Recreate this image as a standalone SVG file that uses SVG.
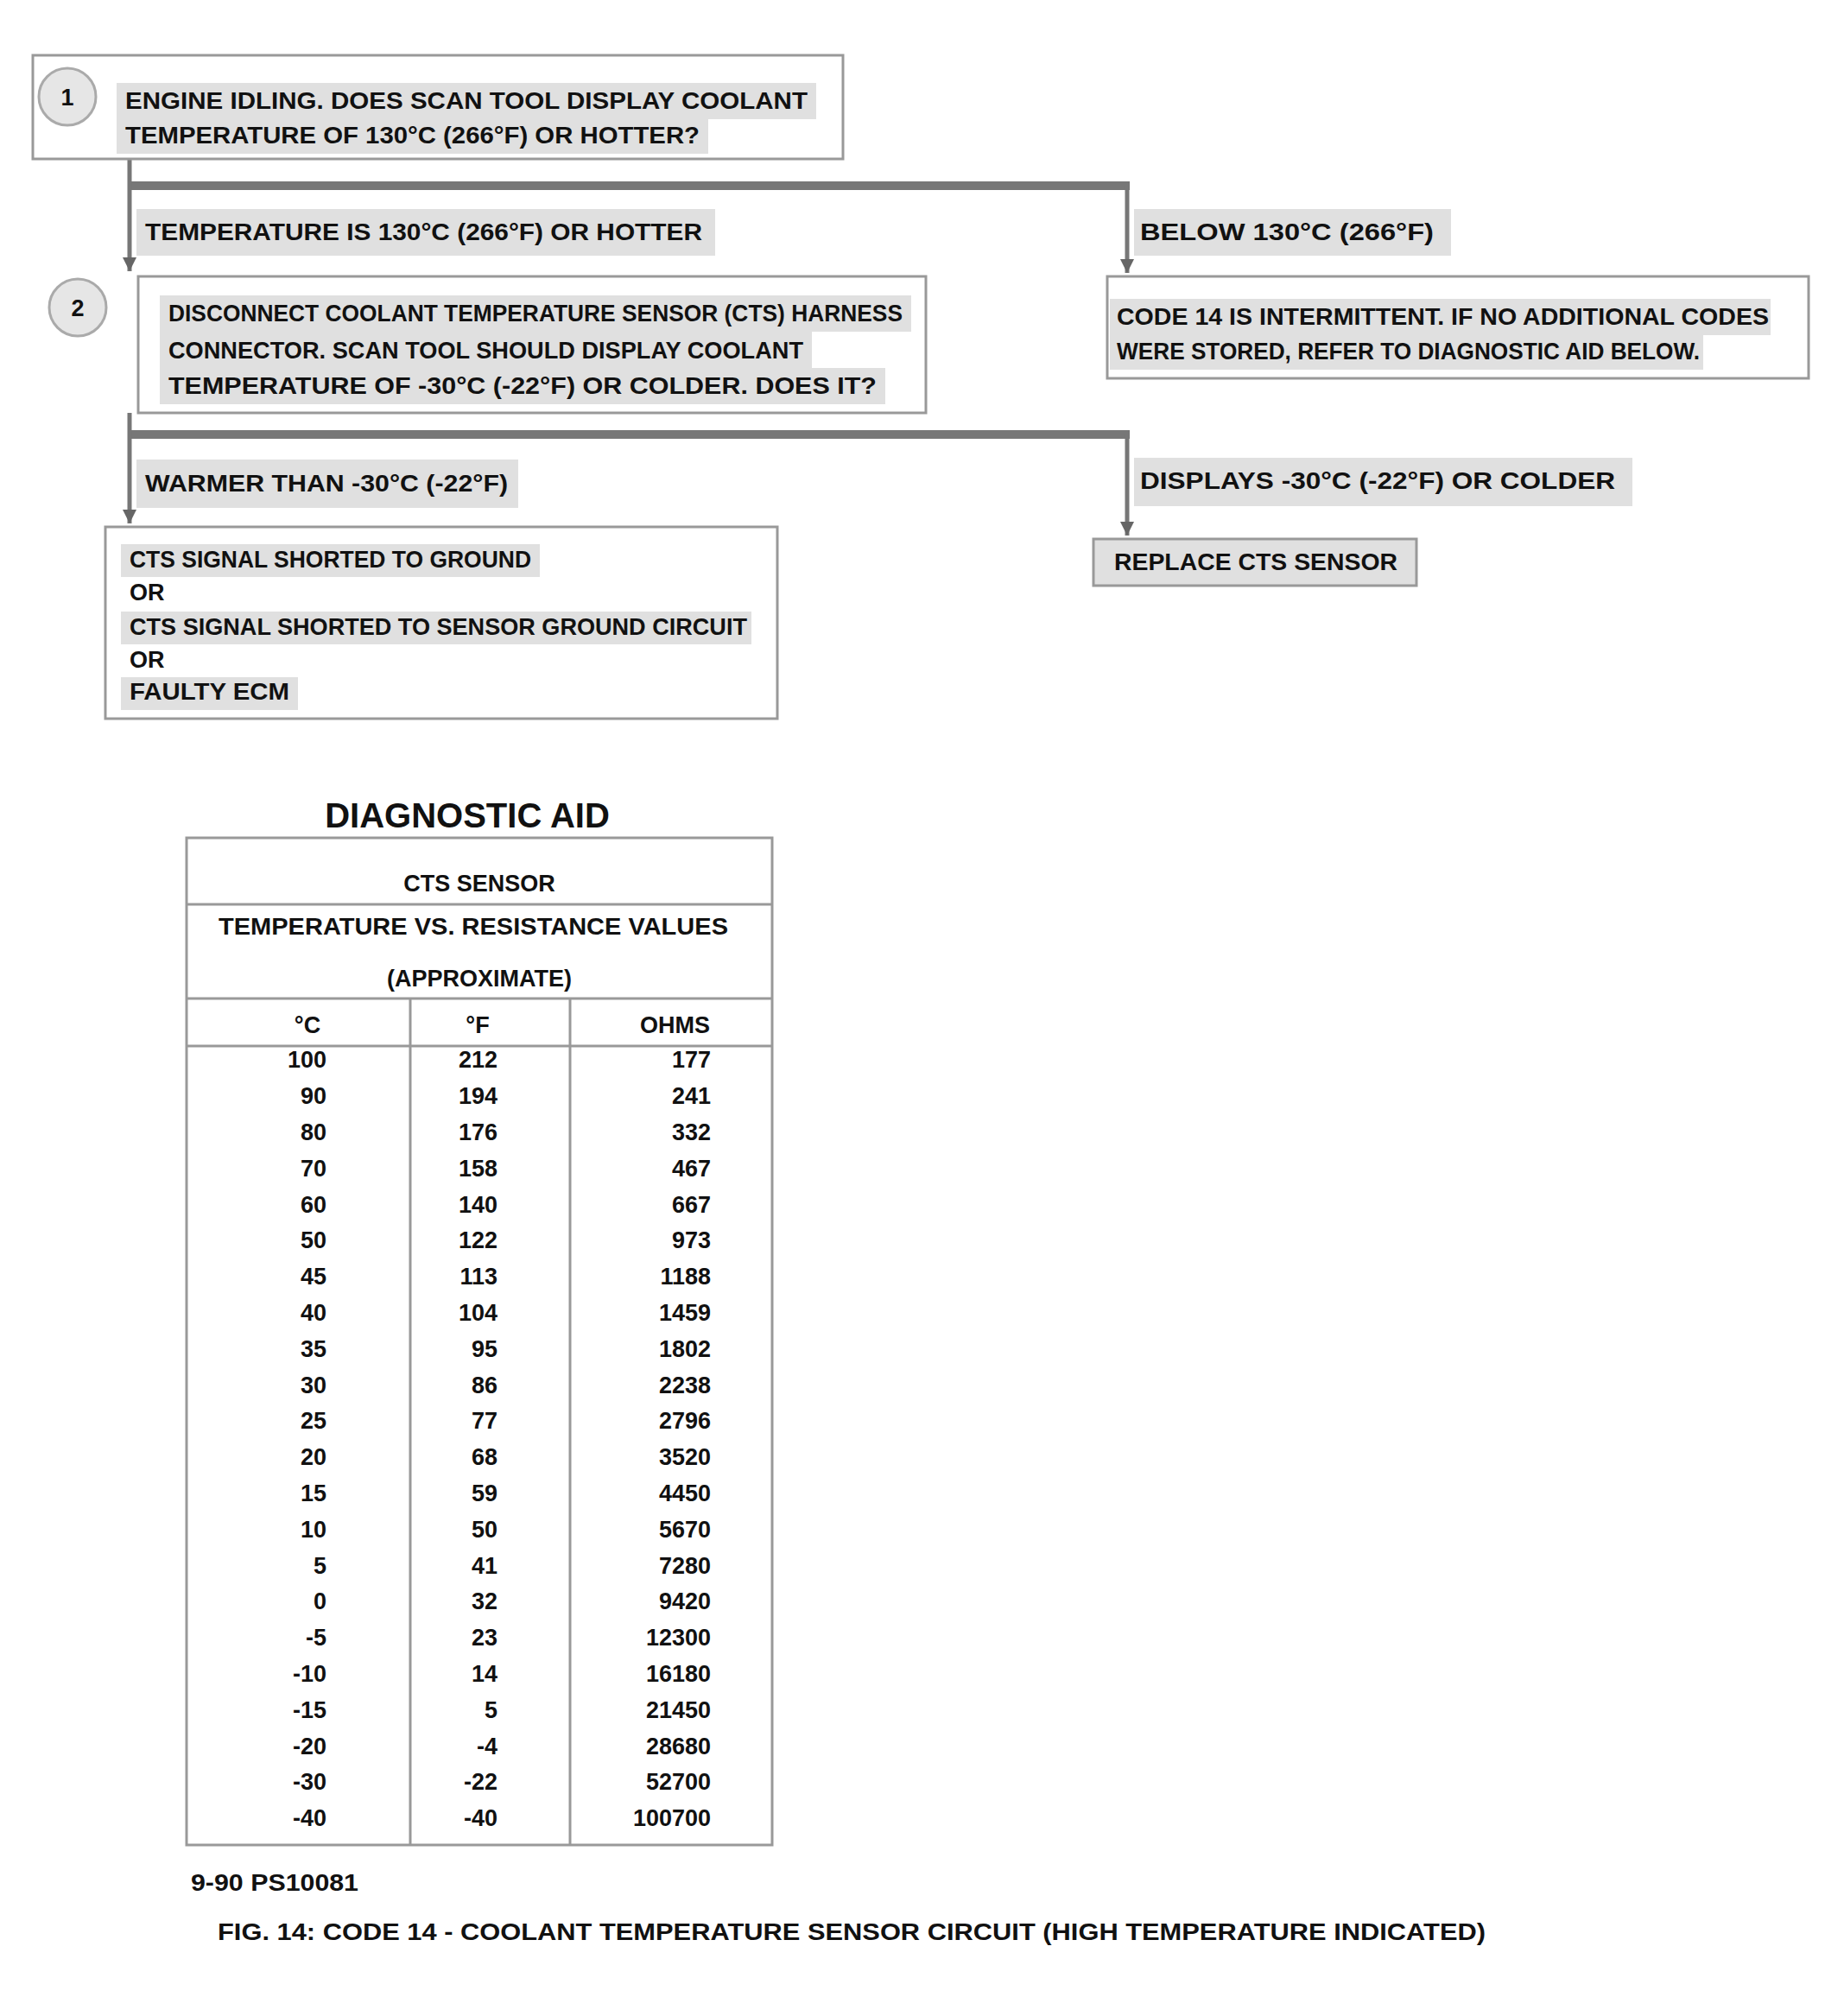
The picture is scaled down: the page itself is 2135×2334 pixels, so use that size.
<svg xmlns="http://www.w3.org/2000/svg" width="2135" height="2334" viewBox="0 0 2135 2334">
<defs>
<style>
.t{font-family:"Liberation Sans",Arial,sans-serif;font-size:27px;fill:#111}
.b{font-weight:bold}
.c{text-anchor:middle}
.e{text-anchor:end}
.hl{fill:#e0e0e0}
.box{fill:none;stroke:#999;stroke-width:3}
.bar{fill:none;stroke:#777;stroke-width:10}
.wire{fill:none;stroke:#777;stroke-width:5}
.num{fill:#e6e6e6;stroke:#aaa;stroke-width:3}
.tl{fill:none;stroke:#999;stroke-width:3}
</style>
<marker id="ah" viewBox="0 0 10 10" refX="10" refY="5" markerWidth="16" markerHeight="18" markerUnits="userSpaceOnUse" orient="auto">
<path d="M0,0 L10,5 L0,10 z" fill="#666"/>
</marker>
</defs>
<rect width="2135" height="2334" fill="#fff"/>

<g id="connectors">
<line class="bar" x1="150" y1="215" x2="1308" y2="215"/>
<path class="wire" d="M150,184 V314" marker-end="url(#ah)"/>
<path class="wire" d="M1305,215 V316" marker-end="url(#ah)"/>
<line class="bar" x1="150" y1="503" x2="1308" y2="503"/>
<path class="wire" d="M150,478 V606" marker-end="url(#ah)"/>
<path class="wire" d="M1305,503 V620" marker-end="url(#ah)"/>
</g>

<g id="step1">
<rect class="box" x="38" y="64" width="938" height="120"/>
<rect class="hl" x="135" y="96" width="810" height="42"/>
<rect class="hl" x="135" y="138" width="685" height="40"/>
<circle class="num" cx="78" cy="112" r="33"/>
<text class="t c b" x="78" y="122">1</text>
<text class="t b" x="145" y="126" textLength="790" lengthAdjust="spacingAndGlyphs">ENGINE IDLING. DOES SCAN TOOL DISPLAY COOLANT</text>
<text class="t b" x="145" y="166" textLength="665" lengthAdjust="spacingAndGlyphs">TEMPERATURE OF 130°C (266°F) OR HOTTER?</text>
</g>

<g id="label1-yes">
<rect class="hl" x="158" y="242" width="670" height="54"/>
<text class="t b" x="168" y="278" textLength="645" lengthAdjust="spacingAndGlyphs">TEMPERATURE IS 130°C (266°F) OR HOTTER</text>
</g>

<g id="label1-no">
<rect class="hl" x="1313" y="242" width="367" height="54"/>
<text class="t b" x="1320" y="278" textLength="340" lengthAdjust="spacingAndGlyphs">BELOW 130°C (266°F)</text>
</g>

<g id="intermittent">
<rect class="box" x="1282" y="320" width="812" height="118"/>
<rect class="hl" x="1285" y="346" width="765" height="42"/>
<rect class="hl" x="1285" y="388" width="687" height="40"/>
<text class="t b" x="1293" y="376" textLength="755" lengthAdjust="spacingAndGlyphs">CODE 14 IS INTERMITTENT. IF NO ADDITIONAL CODES</text>
<text class="t b" x="1293" y="416" textLength="675" lengthAdjust="spacingAndGlyphs">WERE STORED, REFER TO DIAGNOSTIC AID BELOW.</text>
</g>

<g id="step2">
<circle class="num" cx="90" cy="356" r="33"/>
<text class="t c b" x="90" y="366">2</text>
<rect class="box" x="160" y="320" width="912" height="158"/>
<rect class="hl" x="185" y="342" width="870" height="42"/>
<rect class="hl" x="185" y="384" width="755" height="42"/>
<rect class="hl" x="185" y="426" width="840" height="42"/>
<text class="t b" x="195" y="372" textLength="850" lengthAdjust="spacingAndGlyphs">DISCONNECT COOLANT TEMPERATURE SENSOR (CTS) HARNESS</text>
<text class="t b" x="195" y="415" textLength="735" lengthAdjust="spacingAndGlyphs">CONNECTOR. SCAN TOOL SHOULD DISPLAY COOLANT</text>
<text class="t b" x="195" y="456" textLength="820" lengthAdjust="spacingAndGlyphs">TEMPERATURE OF -30°C (-22°F) OR COLDER. DOES IT?</text>
</g>

<g id="label2-no">
<rect class="hl" x="158" y="532" width="442" height="56"/>
<text class="t b" x="168" y="569" textLength="420" lengthAdjust="spacingAndGlyphs">WARMER THAN -30°C (-22°F)</text>
</g>

<g id="label2-yes">
<rect class="hl" x="1313" y="530" width="577" height="56"/>
<text class="t b" x="1320" y="566" textLength="550" lengthAdjust="spacingAndGlyphs">DISPLAYS -30°C (-22°F) OR COLDER</text>
</g>

<g id="faults">
<rect class="box" x="122" y="610" width="778" height="222"/>
<rect class="hl" x="140" y="630" width="485" height="38"/>
<rect class="hl" x="140" y="708" width="730" height="38"/>
<rect class="hl" x="140" y="784" width="205" height="38"/>
<text class="t b" x="150" y="657" textLength="465" lengthAdjust="spacingAndGlyphs">CTS SIGNAL SHORTED TO GROUND</text>
<text class="t b" x="150" y="695">OR</text>
<text class="t b" x="150" y="735" textLength="715" lengthAdjust="spacingAndGlyphs">CTS SIGNAL SHORTED TO SENSOR GROUND CIRCUIT</text>
<text class="t b" x="150" y="773">OR</text>
<text class="t b" x="150" y="810" textLength="185" lengthAdjust="spacingAndGlyphs">FAULTY ECM</text>
</g>

<g id="replace">
<rect class="hl" x="1266" y="624" width="374" height="54"/>
<rect class="box" x="1266" y="624" width="374" height="54"/>
<text class="t b" x="1290" y="660" textLength="328" lengthAdjust="spacingAndGlyphs">REPLACE CTS SENSOR</text>
</g>

<g id="diagnostic-aid">
<text class="t c b" x="541" y="958" style="font-size:40px">DIAGNOSTIC AID</text>
<rect class="tl" x="216" y="970" width="678" height="1166"/>
<line class="tl" x1="216" y1="1047" x2="894" y2="1047"/>
<line class="tl" x1="216" y1="1156" x2="894" y2="1156"/>
<line class="tl" x1="216" y1="1211" x2="894" y2="1211"/>
<line class="tl" x1="475" y1="1156" x2="475" y2="2136"/>
<line class="tl" x1="660" y1="1156" x2="660" y2="2136"/>
<text class="t c b" x="555" y="1032">CTS SENSOR</text>
<text class="t c b" x="548" y="1082" textLength="590" lengthAdjust="spacingAndGlyphs">TEMPERATURE VS. RESISTANCE VALUES</text>
<text class="t c b" x="555" y="1142">(APPROXIMATE)</text>
<text class="t c b" x="356" y="1196">°C</text>
<text class="t c b" x="553" y="1196">°F</text>
<text class="t e b" x="822" y="1196">OHMS</text>
<g class="t e b">
<text x="378" y="1236">100</text><text x="576" y="1236">212</text><text x="823" y="1236">177</text>
<text x="378" y="1278">90</text><text x="576" y="1278">194</text><text x="823" y="1278">241</text>
<text x="378" y="1320">80</text><text x="576" y="1320">176</text><text x="823" y="1320">332</text>
<text x="378" y="1362">70</text><text x="576" y="1362">158</text><text x="823" y="1362">467</text>
<text x="378" y="1404">60</text><text x="576" y="1404">140</text><text x="823" y="1404">667</text>
<text x="378" y="1445">50</text><text x="576" y="1445">122</text><text x="823" y="1445">973</text>
<text x="378" y="1487">45</text><text x="576" y="1487">113</text><text x="823" y="1487">1188</text>
<text x="378" y="1529">40</text><text x="576" y="1529">104</text><text x="823" y="1529">1459</text>
<text x="378" y="1571">35</text><text x="576" y="1571">95</text><text x="823" y="1571">1802</text>
<text x="378" y="1613">30</text><text x="576" y="1613">86</text><text x="823" y="1613">2238</text>
<text x="378" y="1654">25</text><text x="576" y="1654">77</text><text x="823" y="1654">2796</text>
<text x="378" y="1696">20</text><text x="576" y="1696">68</text><text x="823" y="1696">3520</text>
<text x="378" y="1738">15</text><text x="576" y="1738">59</text><text x="823" y="1738">4450</text>
<text x="378" y="1780">10</text><text x="576" y="1780">50</text><text x="823" y="1780">5670</text>
<text x="378" y="1822">5</text><text x="576" y="1822">41</text><text x="823" y="1822">7280</text>
<text x="378" y="1863">0</text><text x="576" y="1863">32</text><text x="823" y="1863">9420</text>
<text x="378" y="1905">-5</text><text x="576" y="1905">23</text><text x="823" y="1905">12300</text>
<text x="378" y="1947">-10</text><text x="576" y="1947">14</text><text x="823" y="1947">16180</text>
<text x="378" y="1989">-15</text><text x="576" y="1989">5</text><text x="823" y="1989">21450</text>
<text x="378" y="2031">-20</text><text x="576" y="2031">-4</text><text x="823" y="2031">28680</text>
<text x="378" y="2072">-30</text><text x="576" y="2072">-22</text><text x="823" y="2072">52700</text>
<text x="378" y="2114">-40</text><text x="576" y="2114">-40</text><text x="823" y="2114">100700</text>
</g>
</g>

<g id="footer">
<text class="t b" x="221" y="2189" textLength="194" lengthAdjust="spacingAndGlyphs">9-90 PS10081</text>
<text class="t b" x="252" y="2246" textLength="1468" lengthAdjust="spacingAndGlyphs">FIG. 14: CODE 14 - COOLANT TEMPERATURE SENSOR CIRCUIT (HIGH TEMPERATURE INDICATED)</text>
</g>
</svg>
